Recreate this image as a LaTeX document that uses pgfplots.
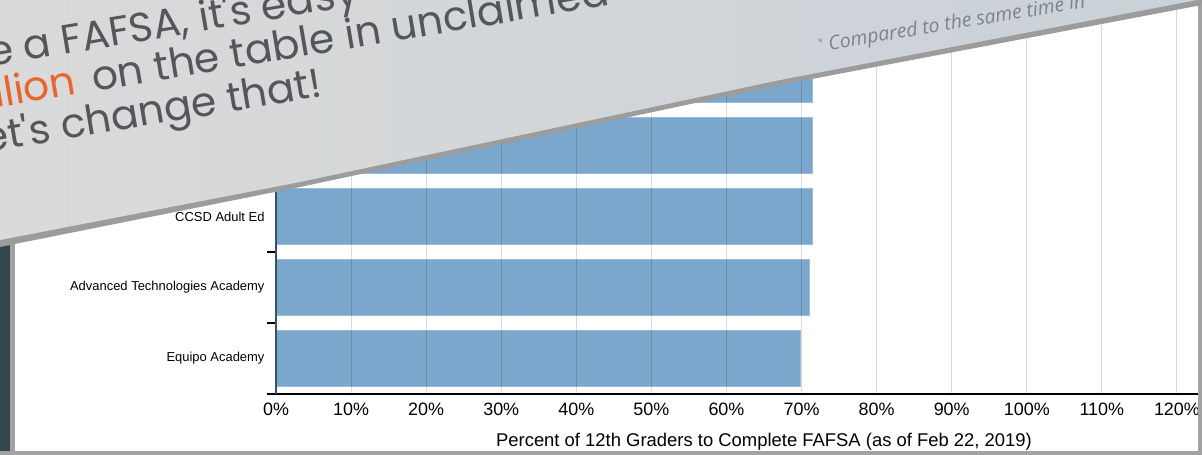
\documentclass[border=0pt]{standalone}
\usepackage{fontspec}
\setmainfont{Liberation Sans}
\newfontfamily\bannerfont{Poppins}
\newfontfamily\notefont{Open Sans}
\usepackage{pgfplots}
\pgfplotsset{compat=1.18}

\definecolor{barblue}{HTML}{7BA7CC}
\definecolor{axisslate}{HTML}{3A5268}
\definecolor{slate}{HTML}{37474F}
\definecolor{framegrey}{HTML}{A2A2A2}
\definecolor{bandgrey}{HTML}{9C9C9C}
\definecolor{bannerL}{HTML}{DADADA}
\definecolor{bannerR}{HTML}{C9D1D8}
\definecolor{bannertext}{HTML}{55565A}
\definecolor{bannerorange}{HTML}{E9652F}
\definecolor{notegrey}{HTML}{7D838A}

\begin{document}
\begin{tikzpicture}
\path[use as bounding box] (0,0) rectangle (1202bp,455bp);
\clip (0,0) rectangle (1202bp,455bp);
\fill[white] (0,0) rectangle (1202bp,455bp);

\begin{axis}[
    at={(276bp,61bp)}, anchor=south west,
    scale only axis,
    width=976bp, height=426bp,
    xmin=0, xmax=130,
    ymin=-0.5, ymax=5.5,
    xbar, bar width=0.8,
    xtick={0,10,...,130},
    xticklabel={\pgfmathprintnumber{\tick}\%},
    /pgf/number format/assume math mode=true,
    ytick={0,1,2},
    yticklabels={Equipo Academy, Advanced Technologies Academy, CCSD Adult Ed},
    minor ytick={-0.5,0.5,...,5.5},
    major tick length=0,
    minor tick length=9bp,
    tick align=outside,
    minor tick style={black, line width=1.2bp},
    xmajorgrids,
    grid style={black, opacity=0.14, line width=1bp},
    axis on top,
    axis x line*=bottom,
    axis y line*=left,
    x axis line style={black, line width=1.2bp, -},
    y axis line style={axisslate, line width=1.5bp, -},
    xticklabel style={font=\fontsize{18}{21}\selectfont, yshift=-5bp},
    yticklabel style={font=\fontsize{13}{15}\selectfont, xshift=-8bp},
    xlabel={Percent of 12th Graders to Complete FAFSA (as of Feb 22, 2019)},
    xlabel style={font=\fontsize{18.5}{21}\selectfont, anchor=base,
        at={(axis description cs:0.5,0)}, yshift=-52bp},
]
\addplot[fill=barblue, draw=barblue!75!white, line width=0.8bp]
    coordinates {(69.9,0) (71.0,1) (71.4,2) (71.4,3) (71.4,4)};
\end{axis}

\begin{scope}[x=1bp, y=1bp]
% window frame
\fill[slate] (0,0) rectangle (10,455);
\fill[framegrey] (10,0) rectangle (15,455);
\fill[framegrey] (0,0) rectangle (1202,4);
\fill[framegrey] (1198,0) rectangle (1202,455);

% overlaid banner
\fill[bandgrey] (0,208) -- (300,268) -- (780,370) -- (1202,450)
    -- (1202,460) -- (0,460) -- cycle;
\shade[left color=bannerL, right color=bannerR] (0,215) -- (300,273)
    -- (780,375) -- (1202,456) -- (1202,460) -- (0,460) -- cycle;

\begin{scope}[every node/.style={inner sep=0pt, rotate=9.5, anchor=base west}]
\node[font=\bannerfont\fontsize{41}{46}\selectfont, text=bannertext]
    at (-10,388) {e a FAFSA, it's easy};
\node[font=\bannerfont\fontsize{41}{46}\selectfont, text=bannertext]
    at (-4,347) {\textcolor{bannerorange}{llion}\hspace{6bp} on the table in unclaimed};
\node[font=\bannerfont\fontsize{41}{46}\selectfont, text=bannertext]
    at (-15,302) {et's change that!};
\node[font=\notefont\itshape\fontsize{19.5}{22}\selectfont, text=notegrey]
    at (819,403) {\raisebox{6bp}{\fontsize{10}{10}\selectfont*} Compared to the same time in};
\end{scope}
\end{scope}
\end{tikzpicture}
\end{document}
